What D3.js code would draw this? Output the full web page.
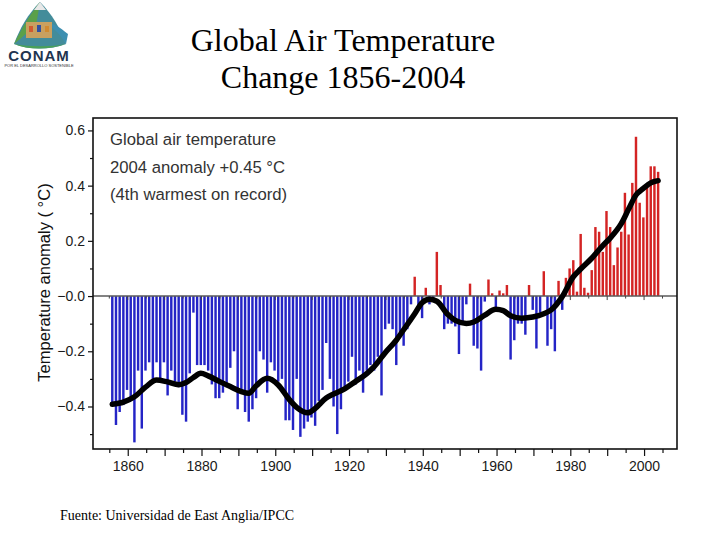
<!DOCTYPE html>
<html>
<head>
<meta charset="utf-8">
<script src="https://cdn.jsdelivr.net/npm/d3@7"></script>
<style>
  html, body { margin: 0; padding: 0; background: #fff; }
  svg { display: block; }
</style>
</head>
<body>
<div id="chart"></div>
<script>
// ---------------- DATA ----------------
const titleLines = ["Global Air Temperature", "Change 1856-2004"];
const insetLines = ["Global air temperature", "2004 anomaly +0.45 °C", "(4th warmest on record)"];
const yAxisTitle = "Temperature anomaly ( °C)";
const sourceText = "Fuente: Universidad  de East Anglia/IPCC";

const firstYear = 1856;
const anomalies = [
  -0.395, -0.467, -0.42, -0.395, -0.34, -0.38, -0.53, -0.27, -0.48, -0.27,   // 1856-1865
  -0.24, -0.30, -0.24, -0.30, -0.24, -0.36, -0.27, -0.31, -0.33, -0.43,      // 1866-1875
  -0.455, -0.28, -0.06, -0.25, -0.25, -0.25, -0.27, -0.32, -0.37, -0.37,     // 1876-1885
  -0.35, -0.33, -0.26, -0.20, -0.41, -0.34, -0.42, -0.455, -0.41, -0.37,     // 1886-1895
  -0.20, -0.23, -0.35, -0.24, -0.27, -0.31, -0.30, -0.45, -0.45, -0.485,     // 1896-1905
  -0.30, -0.51, -0.48, -0.455, -0.44, -0.47, -0.38, -0.34, -0.17, -0.30,     // 1906-1915
  -0.40, -0.50, -0.41, -0.34, -0.31, -0.22, -0.32, -0.27, -0.35, -0.27,      // 1916-1925
  -0.25, -0.27, -0.22, -0.36, -0.12, -0.10, -0.12, -0.25, -0.13, -0.18,      // 1926-1935
  -0.12, -0.03, 0.07, -0.05, -0.08, 0.03, -0.03, -0.02, 0.16, 0.04,          // 1936-1945
  -0.12, -0.10, -0.10, -0.11, -0.21, -0.10, -0.03, 0.045, -0.18, -0.19,      // 1946-1955
  -0.27, -0.02, 0.06, 0.01, -0.04, 0.02, 0.01, 0.04, -0.23, -0.16,           // 1956-1965
  -0.10, -0.10, -0.14, 0.04, -0.05, -0.19, -0.06, 0.09, -0.18, -0.12,        // 1966-1975
  -0.20, 0.055, -0.05, 0.066, 0.10, 0.13, 0.016, 0.225, 0.03, 0.012,         // 1976-1985
  0.094, 0.25, 0.233, 0.16, 0.308, 0.25, 0.112, 0.176, 0.233, 0.374,         // 1986-1995
  0.223, 0.41, 0.577, 0.338, 0.285, 0.40, 0.47, 0.47, 0.45                   // 1996-2004
];
const years = anomalies.map((d, i) => firstYear + i);

// Smoothed curve
const smoothYears = [1856, 1859, 1862, 1865, 1868, 1871, 1874, 1876, 1878, 1880, 1882, 1885, 1888, 1891, 1893,
  1895, 1898, 1901, 1904, 1906, 1909, 1911, 1914, 1916, 1919, 1922, 1925, 1927, 1930, 1933, 1935, 1938, 1940,
  1942, 1944, 1947, 1949, 1952, 1954, 1957, 1960, 1962, 1964, 1967, 1970, 1973, 1975, 1978, 1981, 1983, 1986,
  1989, 1991, 1994, 1996, 1998, 2000, 2002, 2004];
const smoothValues = [-0.392, -0.384, -0.365, -0.330, -0.304, -0.311, -0.321, -0.313, -0.295, -0.280, -0.289, -0.309, -0.328, -0.346, -0.352,
  -0.325, -0.298, -0.322, -0.375, -0.403, -0.423, -0.407, -0.369, -0.355, -0.336, -0.309, -0.281, -0.256, -0.205, -0.160, -0.122, -0.064, -0.024,
  -0.012, -0.019, -0.067, -0.088, -0.099, -0.094, -0.069, -0.048, -0.053, -0.071, -0.080, -0.076, -0.064, -0.050, -0.002, 0.070, 0.098, 0.137,
  0.183, 0.210, 0.262, 0.315, 0.366, 0.390, 0.410, 0.418];

const yTickValues = [0.6, 0.4, 0.2, 0.0, -0.2, -0.4];
const yTickLabels = ["0.6", "0.4", "0.2", "\u22120.0", "\u22120.2", "\u22120.4"];
const xTickLabels = [1860, 1880, 1900, 1920, 1940, 1960, 1980, 2000];

// ---------------- LAYOUT ----------------
const W = 720, H = 540;
const plot = { left: 93, right: 677, top: 118, bottom: 449 };
const barOffset = -0.19; // bars sit slightly left of the year tick

const svg = d3.select("#chart").append("svg")
  .attr("width", W).attr("height", H)
  .attr("viewBox", `0 0 ${W} ${H}`);

const x = d3.scaleLinear().domain([1850.58, 2008.93]).range([plot.left, plot.right]);
const y = d3.scaleLinear().domain([-0.554, 0.645]).range([plot.bottom, plot.top]);

// ---------------- LOGO ----------------
const logo = svg.append("g").attr("transform", "translate(2,0)");
logo.append("path").attr("d", "M38,2 C50,14 58,28 64,44 C48,50 28,50 12,44 C18,28 26,14 38,2 Z").attr("fill", "#2f7f8f").attr("opacity", 0.9);
logo.append("path").attr("d", "M38,2 C30,12 22,24 12,44 C22,36 28,30 34,26 Z").attr("fill", "#5aa04a");
logo.append("path").attr("d", "M64,44 C58,34 52,28 44,24 C50,22 56,26 66,34 Z").attr("fill", "#3d8fb0");
logo.append("path").attr("d", "M12,44 C26,50 46,50 64,44 C50,47 28,47 12,44 Z").attr("fill", "#4aa05a");
logo.append("rect").attr("x", 24).attr("y", 22).attr("width", 26).attr("height", 16).attr("fill", "#c8a060");
logo.append("rect").attr("x", 27).attr("y", 26).attr("width", 4).attr("height", 6).attr("fill", "#d05a30");
logo.append("rect").attr("x", 35).attr("y", 25).attr("width", 4).attr("height", 7).attr("fill", "#3050a0");
logo.append("rect").attr("x", 43).attr("y", 26).attr("width", 4).attr("height", 6).attr("fill", "#d08a30");
logo.append("path").attr("d", "M32,10 L38,2 L44,10 Z").attr("fill", "#e8e8e8");
logo.append("text").attr("x", 37).attr("y", 61)
  .attr("text-anchor", "middle")
  .attr("font-family", "Liberation Sans, Arial, sans-serif")
  .attr("font-size", 15).attr("font-weight", "bold").attr("letter-spacing", 1)
  .attr("fill", "#1f3550").text("CONAM");
logo.append("text").attr("x", 37).attr("y", 67)
  .attr("text-anchor", "middle")
  .attr("font-family", "Liberation Sans, Arial, sans-serif")
  .attr("font-size", 4).attr("fill", "#333").text("POR EL DESARROLLO SOSTENIBLE");

// ---------------- TITLE ----------------
svg.append("g").selectAll("text").data(titleLines).join("text")
  .attr("x", 343).attr("y", (d, i) => 51 + i * 37)
  .attr("text-anchor", "middle")
  .attr("font-family", "Liberation Serif, 'Times New Roman', serif")
  .attr("font-size", 32).attr("fill", "#000")
  .text(d => d);

// ---------------- BARS ----------------
const data = years.map((yr, i) => ({ year: yr, value: anomalies[i] }));
svg.append("g").selectAll("rect").data(data).join("rect")
  .attr("x", d => x(d.year + barOffset - 0.33))
  .attr("width", d => x(d.year + barOffset + 0.33) - x(d.year + barOffset - 0.33))
  .attr("y", d => d.value >= 0 ? y(d.value) : y(0))
  .attr("height", d => Math.abs(y(d.value) - y(0)))
  .attr("fill", d => d.value >= 0 ? "#d42424" : "#2424c6");

// ---------------- ZERO LINE + TICKS ----------------
svg.append("line")
  .attr("x1", plot.left).attr("x2", plot.right)
  .attr("y1", y(0)).attr("y2", y(0))
  .attr("stroke", "#5a5a5a").attr("stroke-width", 1.4);

const fiveYearTicks = d3.range(1855, 2006, 5);
svg.append("g").selectAll("line").data(fiveYearTicks).join("line")
  .attr("x1", d => x(d)).attr("x2", d => x(d))
  .attr("y1", y(0)).attr("y2", d => y(0) + (d % 10 === 0 ? 4 : 2.5))
  .attr("stroke", "#444").attr("stroke-width", 1);

// ---------------- SMOOTH CURVE ----------------
const smooth = smoothYears.map((yr, i) => ({ year: yr, value: smoothValues[i] }));
svg.append("path").datum(smooth)
  .attr("d", d3.line()
    .x(d => x(d.year + barOffset))
    .y(d => y(d.value))
    .curve(d3.curveMonotoneX))
  .attr("fill", "none").attr("stroke", "#000")
  .attr("stroke-width", 5.5)
  .attr("stroke-linejoin", "round").attr("stroke-linecap", "round");

// ---------------- FRAME ----------------
svg.append("rect")
  .attr("x", plot.left).attr("y", plot.top)
  .attr("width", plot.right - plot.left).attr("height", plot.bottom - plot.top)
  .attr("fill", "none").attr("stroke", "#111").attr("stroke-width", 1.6);

// ---------------- AXES ----------------
const yAxis = d3.axisLeft(y).tickValues(yTickValues)
  .tickFormat((d, i) => yTickLabels[i]).tickSize(5).tickPadding(3);
const gy = svg.append("g").attr("transform", `translate(${plot.left},0)`).call(yAxis);
gy.select(".domain").remove();
gy.selectAll("line").attr("stroke", "#111").attr("stroke-width", 1.2);
gy.selectAll("text").attr("font-family", "Liberation Sans, Arial, sans-serif")
  .attr("font-size", 14).attr("fill", "#1a1a1a");

const yMinor = d3.axisLeft(y).tickValues([0.5, 0.3, 0.1, -0.1, -0.3, -0.5]).tickSize(3).tickFormat("");
const gym = svg.append("g").attr("transform", `translate(${plot.left},0)`).call(yMinor);
gym.select(".domain").remove();
gym.selectAll("line").attr("stroke", "#111").attr("stroke-width", 1.2);

const xMajor = d3.axisBottom(x).tickValues(d3.range(1860, 2001, 10))
  .tickSize(7).tickPadding(5)
  .tickFormat(d => xTickLabels.includes(d) ? String(d) : "");
const gx = svg.append("g").attr("transform", `translate(0,${plot.bottom})`).call(xMajor);
gx.select(".domain").remove();
gx.selectAll("line").attr("stroke", "#111").attr("stroke-width", 1.2);
gx.selectAll("text").attr("font-family", "Liberation Sans, Arial, sans-serif")
  .attr("font-size", 14).attr("fill", "#1a1a1a");

const xMinor = d3.axisBottom(x).tickValues(d3.range(1855, 2006, 10)).tickSize(4).tickFormat("");
const gxm = svg.append("g").attr("transform", `translate(0,${plot.bottom})`).call(xMinor);
gxm.select(".domain").remove();
gxm.selectAll("line").attr("stroke", "#111").attr("stroke-width", 1.2);

// Y axis title
svg.append("text")
  .attr("transform", `translate(50,${(plot.top + plot.bottom) / 2 - 1}) rotate(-90)`)
  .attr("text-anchor", "middle")
  .attr("font-family", "Liberation Sans, Arial, sans-serif")
  .attr("font-size", 16.5).attr("fill", "#111")
  .text(yAxisTitle);

// Inset text
svg.append("g").selectAll("text").data(insetLines).join("text")
  .attr("x", 110).attr("y", (d, i) => 145 + i * 27.5)
  .attr("font-family", "Liberation Sans, Arial, sans-serif")
  .attr("font-size", 16.7).attr("fill", "#333")
  .text(d => d);

// Source
svg.append("text")
  .attr("x", 60).attr("y", 520)
  .attr("font-family", "Liberation Serif, 'Times New Roman', serif")
  .attr("font-size", 14).attr("fill", "#000")
  .text(sourceText);
</script>
</body>
</html>
